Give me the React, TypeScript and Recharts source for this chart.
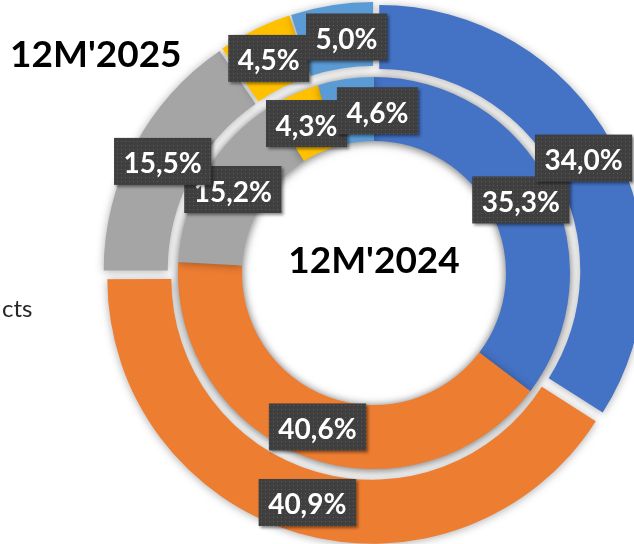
import React from 'react';
import { PieChart, Pie, Cell, Sector } from 'recharts';

// ---- data ----
const categories = ['Segment 1', 'Segment 2', 'Segment 3', 'Segment 4', 'Segment 5'];
const share2025 = [34.0, 40.9, 15.5, 4.5, 5.0];
const share2024 = [35.3, 40.6, 15.2, 4.3, 4.6];
const colors = ['#4472C4', '#ED7D31', '#A5A5A5', '#FFC000', '#5B9BD5'];
const outerTitle = "12M'2025";
const innerTitle = "12M'2024";
const legendText = 'cts';

const data2025 = categories.map((name, i) => ({ name, value: share2025[i] }));
const data2024 = categories.map((name, i) => ({ name, value: share2024[i] }));

// ---- layout / style ----
const W = 634;
const H = 544;
const CX = 374;
const CY = 273;
const INNER = { inner: 132, outer: 196 };
const OUTER = { inner: 201, outer: 265 };
const EXPLODE = 6;
const RAD = Math.PI / 180;
const FONT = 'Lato, "Open Sans", sans-serif';
const LABEL_SIZE = 28;
// label nudges (Excel moves colliding labels sideways)
const innerNudge = [0, 0, 0, 0, 27];
const outerNudge = [0, 0, 0, 0, 10];

const charW: Record<string, number> = { ',': 0.25, '%': 0.84 };
const textWidth = (s: string) =>
  s.split('').reduce((a, c) => a + (charW[c] ?? 0.58), 0) * LABEL_SIZE;
const fmt = (v: number) => v.toFixed(1).replace('.', ',') + '%';

const renderOuterSlice = (p: any) => {
  const { cx, cy, innerRadius, outerRadius, startAngle, endAngle, midAngle, index } = p;
  const dx = EXPLODE * Math.cos(-midAngle * RAD);
  const dy = EXPLODE * Math.sin(-midAngle * RAD);
  return (
    <g key={`os-${index}`} style={{ filter: 'drop-shadow(0px 1px 4px rgba(0,0,0,0.32))' }}>
      <Sector
        cx={cx + dx}
        cy={cy + dy}
        innerRadius={innerRadius}
        outerRadius={outerRadius}
        startAngle={startAngle}
        endAngle={endAngle}
        fill={colors[index]}
        stroke="none"
      />
    </g>
  );
};

const makeBoxLabel = (explode: number, nudge: number[], prefix: string) => (p: any) => {
  const { cx, cy, innerRadius, outerRadius, midAngle, value, index } = p;
  const r = (innerRadius + outerRadius) / 2 + explode;
  const x = cx + r * Math.cos(-midAngle * RAD) + nudge[index];
  const y = cy + r * Math.sin(-midAngle * RAD);
  const text = fmt(value);
  const w = textWidth(text) + 18;
  const h = 47;
  return (
    <g key={`${prefix}-${index}`} style={{ filter: 'drop-shadow(2px 2px 1.5px rgba(0,0,0,0.45))' }}>
      <rect x={x - w / 2} y={y - h / 2} width={w} height={h} fill="url(#dotPattern)" />
      <text
        x={x}
        y={y + 12}
        textAnchor="middle"
        fill="#ffffff"
        fontSize={LABEL_SIZE}
        fontWeight={700}
        fontFamily={FONT}
      >
        {text}
      </text>
    </g>
  );
};

export default function App() {
  return (
    <div style={{ position: 'absolute', left: 0, top: 0, width: W, height: H, overflow: 'hidden', background: '#fff' }}>
      <style>{`.ring-inner { filter: drop-shadow(0px 1px 4px rgba(0,0,0,0.32)); }`}</style>
      <svg width={0} height={0} style={{ position: 'absolute' }}>
        <defs>
          <pattern id="dotPattern" width={4} height={4} patternUnits="userSpaceOnUse">
            <rect x={0} y={0} width={4} height={4} fill="#3f3f3f" />
            <rect x={1} y={1} width={1} height={1} fill="#5c5c5c" />
          </pattern>
        </defs>
      </svg>
      <PieChart width={W} height={H} margin={{ top: 0, right: 0, bottom: 0, left: 0 }}>
        <Pie
          className="ring-inner"
          data={data2024}
          dataKey="value"
          nameKey="name"
          cx={CX}
          cy={CY}
          innerRadius={INNER.inner}
          outerRadius={INNER.outer}
          startAngle={90}
          endAngle={-270}
          stroke="none"
          isAnimationActive={false}
        >
          {data2024.map((d, i) => (
            <Cell key={d.name} fill={colors[i]} stroke="none" />
          ))}
        </Pie>
        <Pie
          data={data2025}
          dataKey="value"
          nameKey="name"
          cx={CX}
          cy={CY}
          innerRadius={OUTER.inner}
          outerRadius={OUTER.outer}
          startAngle={90}
          endAngle={-270}
          fill="transparent"
          stroke="none"
          label={renderOuterSlice}
          labelLine={false}
          isAnimationActive={false}
        />
        <Pie
          data={data2024}
          dataKey="value"
          nameKey="name"
          cx={CX}
          cy={CY}
          innerRadius={INNER.inner}
          outerRadius={INNER.outer}
          startAngle={90}
          endAngle={-270}
          fill="transparent"
          stroke="none"
          label={makeBoxLabel(0, innerNudge, 'il')}
          labelLine={false}
          isAnimationActive={false}
        />
        <Pie
          data={data2025}
          dataKey="value"
          nameKey="name"
          cx={CX}
          cy={CY}
          innerRadius={OUTER.inner}
          outerRadius={OUTER.outer}
          startAngle={90}
          endAngle={-270}
          fill="transparent"
          stroke="none"
          label={makeBoxLabel(EXPLODE, outerNudge, 'ol')}
          labelLine={false}
          isAnimationActive={false}
        />
      </PieChart>
      <svg width={W} height={H} style={{ position: 'absolute', left: 0, top: 0, pointerEvents: 'none' }}>
        <text x={10} y={67} fontSize={37} fontWeight={700} fontFamily={FONT} fill="#000">
          {outerTitle}
        </text>
        <text x={374} y={273} textAnchor="middle" fontSize={37} fontWeight={700} fontFamily={FONT} fill="#000">
          {innerTitle}
        </text>
        <text x={2} y={317} textAnchor="start" fontSize={24} fontFamily={FONT} fill="#262626">
          {legendText}
        </text>
      </svg>
    </div>
  );
}
